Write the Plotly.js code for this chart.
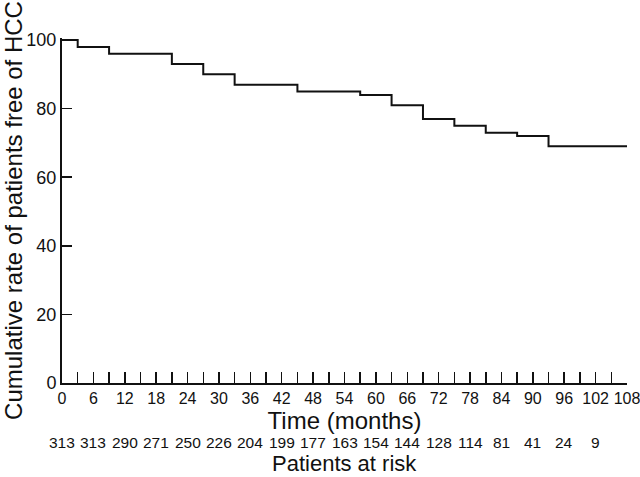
<!DOCTYPE html>
<html>
<head>
<meta charset="utf-8">
<script src="https://cdn.plot.ly/plotly-3.0.1.min.js"></script>
<style>html,body{margin:0;padding:0;background:#fff;}#chart{width:640px;height:477px;}</style>
</head>
<body>
<div id="chart"></div>
<script>
// Step function: time (months) of each level start, and cumulative rate (%)
const stepTimes = [0, 3, 9, 21, 27, 33, 45, 57, 63, 69, 75, 81, 87, 93, 108];
const stepRates = [100, 98, 96, 93, 90, 87, 85, 84, 81, 77, 75, 73, 72, 69, 69];

// Patients at risk
const riskTimes = [0, 6, 12, 18, 24, 30, 36, 42, 48, 54, 60, 66, 72, 78, 84, 90, 96, 102];
const riskCounts = [313, 313, 290, 271, 250, 226, 204, 199, 177, 163, 154, 144, 128, 114, 81, 41, 24, 9];

const FONT = 'Liberation Sans, Arial, Helvetica, sans-serif';

const trace = {
  x: stepTimes, y: stepRates,
  type: 'scatter', mode: 'lines',
  line: {shape: 'hv', color: '#111', width: 2},
  hoverinfo: 'skip'
};

const annotations = riskTimes.map((t, i) => ({
  x: t, y: -0.172, xref: 'x', yref: 'paper',
  text: String(riskCounts[i]), showarrow: false,
  xanchor: 'center', yanchor: 'middle', borderpad: 0,
  font: {family: FONT, size: 15.5, color: '#111'}
}));
annotations.push({
  x: 0.5, y: -0.2725, xref: 'paper', yref: 'paper',
  text: 'Patients at risk', showarrow: false,
  xanchor: 'center', yanchor: 'bottom', borderpad: 0,
  font: {family: FONT, size: 22, color: '#111'}
});

const layout = {
  width: 640, height: 477,
  margin: {l: 62, r: 13, t: 38, b: 94},
  paper_bgcolor: '#fff', plot_bgcolor: '#fff',
  showlegend: false,
  font: {family: FONT, color: '#111'},
  xaxis: {
    range: [0, 108], tick0: 0, dtick: 6,
    ticks: 'inside', ticklen: 11, tickwidth: 1.5, tickcolor: '#111',
    minor: {dtick: 3, ticks: 'inside', ticklen: 11, tickwidth: 1.5, tickcolor: '#111'},
    showline: true, linecolor: '#111', linewidth: 2,
    showgrid: false, zeroline: false,
    ticklabeloverflow: 'allow',
    tickfont: {family: FONT, size: 16, color: '#111'},
    title: {text: 'Time (months)', font: {family: FONT, size: 24, color: '#111'}, standoff: 0}
  },
  yaxis: {
    range: [0, 100.6], tick0: 0, dtick: 20,
    ticks: 'inside', ticklen: 10, tickwidth: 1.5, tickcolor: '#111',
    showline: true, linecolor: '#111', linewidth: 2,
    showgrid: false, zeroline: false,
    tickfont: {family: FONT, size: 18, color: '#111'},
    title: {text: 'Cumulative rate of patients free of HCC', font: {family: FONT, size: 24, color: '#111'}, standoff: 0}
  },
  annotations: annotations
};

Plotly.newPlot('chart', [trace], layout, {displayModeBar: false, staticPlot: true});
</script>
</body>
</html>
